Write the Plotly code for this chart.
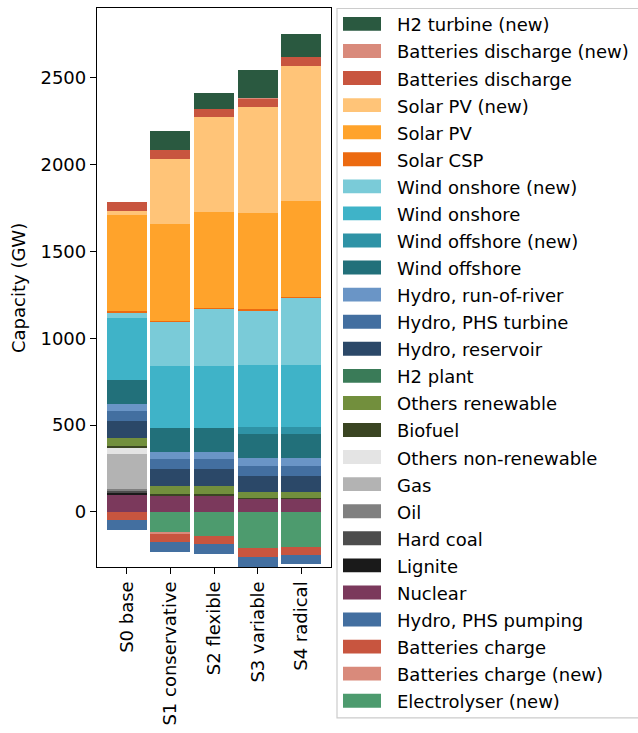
import plotly.graph_objects as go

# Scenarios on the x axis
scenarios = ["S0 base", "S1 conservative", "S2 flexible", "S3 variable", "S4 radical"]

# Installed capacity per technology (GW), one value per scenario.
# Negative values are consumers (charging, pumping, electrolysis).
electrolyser_new = [0, -119, -138, -210, -199]
batteries_charge_new = [0, -8, 0, 0, 0]
batteries_charge = [-46, -46, -46, -50, -48]
hydro_phs_pumping = [-57, -57, -57, -57, -55]
nuclear = [97, 97, 97, 76, 76]
lignite = [17, 0, 0, 0, 0]
hard_coal = [10, 0, 0, 0, 0]
oil = [8, 0, 0, 0, 0]
gas = [201, 0, 0, 0, 0]
others_non_renewable = [40, 0, 0, 0, 0]
biofuel = [6, 6, 6, 6, 6]
others_renewable = [46, 46, 46, 33, 33]
h2_plant = [0, 0, 0, 0, 0]
hydro_reservoir = [97, 97, 97, 92, 92]
hydro_phs_turbine = [57, 57, 57, 57, 57]
hydro_ror = [40, 40, 40, 46, 46]
wind_offshore = [143, 143, 143, 138, 138]
wind_offshore_new = [0, 0, 0, 40, 40]
wind_onshore = [356, 356, 356, 361, 361]
wind_onshore_new = [29, 252, 327, 310, 384]
solar_csp = [11, 6, 6, 11, 6]
solar_pv = [550, 556, 550, 550, 550]
solar_pv_new = [23, 378, 550, 614, 780]
batteries_discharge = [52, 52, 46, 46, 52]
batteries_discharge_new = [0, 0, 0, 6, 0]
h2_turbine_new = [0, 109, 92, 161, 132]

# Stacking order (first = closest to zero)
series = [
    ("Electrolyser (new)", electrolyser_new, "#4d9b6e"),
    ("Batteries charge (new)", batteries_charge_new, "#d98a7b"),
    ("Batteries charge", batteries_charge, "#c8553f"),
    ("Hydro, PHS pumping", hydro_phs_pumping, "#436fa0"),
    ("Nuclear", nuclear, "#7b395c"),
    ("Lignite", lignite, "#1a1a1a"),
    ("Hard coal", hard_coal, "#4d4d4d"),
    ("Oil", oil, "#808080"),
    ("Gas", gas, "#b3b3b3"),
    ("Others non-renewable", others_non_renewable, "#e4e4e4"),
    ("Biofuel", biofuel, "#3a4522"),
    ("Others renewable", others_renewable, "#728f3d"),
    ("H2 plant", h2_plant, "#3a7b58"),
    ("Hydro, reservoir", hydro_reservoir, "#2b4868"),
    ("Hydro, PHS turbine", hydro_phs_turbine, "#436fa0"),
    ("Hydro, run-of-river", hydro_ror, "#6a95c6"),
    ("Wind offshore", wind_offshore, "#22707a"),
    ("Wind offshore (new)", wind_offshore_new, "#2f93a6"),
    ("Wind onshore", wind_onshore, "#3fb3c8"),
    ("Wind onshore (new)", wind_onshore_new, "#7acbd8"),
    ("Solar CSP", solar_csp, "#ec6a10"),
    ("Solar PV", solar_pv, "#ffa32b"),
    ("Solar PV (new)", solar_pv_new, "#ffc478"),
    ("Batteries discharge", batteries_discharge, "#c8553f"),
    ("Batteries discharge (new)", batteries_discharge_new, "#d98a7b"),
    ("H2 turbine (new)", h2_turbine_new, "#2a5940"),
]

FONT = "DejaVu Sans"
W, H = 638, 733
PX_L, PX_R, PX_T, PX_B = 97, 331, 7, 570


def px_x(px):
    return (px - PX_L) / (PX_R - PX_L)


def px_y(py):
    return (PX_B - py) / (PX_B - PX_T)


fig = go.Figure()
xpos = list(range(len(scenarios)))
for name, vals, color in series:
    fig.add_trace(go.Bar(
        x=xpos, y=vals, name=name, width=0.91,
        marker=dict(color=color, line=dict(width=0)),
        showlegend=False,
    ))

# Legend drawn as a boxed list, top entry = last stacked series
shapes = [dict(
    type="rect", xref="paper", yref="paper",
    x0=px_x(337), x1=px_x(660), y0=px_y(722), y1=px_y(7.5),
    line=dict(color="#cccccc", width=1.2), fillcolor="rgba(255,255,255,0.8)",
    layer="below",
)]
annotations = []
step = (704.7 - 23.0) / (len(series) - 1)
for i, (name, vals, color) in enumerate(reversed(series)):
    cy = 23.0 + i * step
    shapes.append(dict(
        type="rect", xref="paper", yref="paper",
        x0=px_x(343), x1=px_x(381), y0=px_y(cy + 7), y1=px_y(cy - 7),
        fillcolor=color, line=dict(width=0),
    ))
    annotations.append(dict(
        x=px_x(395), y=px_y(cy + 1), xref="paper", yref="paper",
        text=name, showarrow=False, xanchor="left", yanchor="middle",
        font=dict(family=FONT, size=18, color="black"),
    ))

annotations.append(dict(
    x=px_x(19), y=px_y(289), xref="paper", yref="paper",
    text="Capacity (GW)", showarrow=False, textangle=-90,
    xanchor="center", yanchor="middle",
    font=dict(family=FONT, size=18, color="black"),
))

fig.update_layout(
    barmode="relative",
    width=W, height=H,
    margin=dict(l=PX_L, r=W - PX_R, t=PX_T, b=H - PX_B),
    plot_bgcolor="white", paper_bgcolor="white",
    font=dict(family=FONT, size=18, color="black"),
    bargap=0,
    shapes=shapes,
    annotations=annotations,
)
fig.update_xaxes(
    range=[-0.68, 4.68],
    tickvals=xpos, ticktext=scenarios, tickangle=-90,
    showline=True, linecolor="black", linewidth=1.3, mirror=True,
    ticks="outside", ticklen=6, tickwidth=1.3, tickcolor="black",
    showgrid=False, zeroline=False,
    tickfont=dict(family=FONT, size=18, color="black"),
)
fig.update_yaxes(
    range=[-317, 2902],
    tickvals=[0, 500, 1000, 1500, 2000, 2500],
    showline=True, linecolor="black", linewidth=1.3, mirror=True,
    ticks="outside", ticklen=6, tickwidth=1.3, tickcolor="black",
    showgrid=False, zeroline=False,
    tickfont=dict(family=FONT, size=18, color="black"),
)

fig.write_html("out.html")
